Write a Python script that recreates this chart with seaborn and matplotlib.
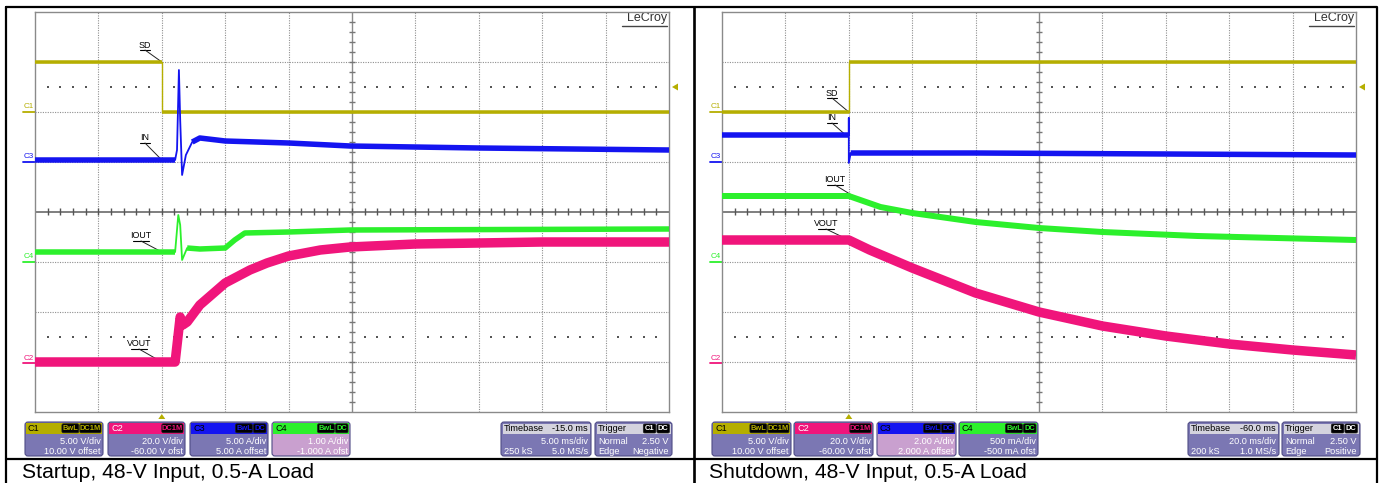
import numpy as np
import pandas as pd
import matplotlib
matplotlib.use("Agg")
import matplotlib.pyplot as plt
from matplotlib.patches import FancyBboxPatch, Rectangle, Polygon
import seaborn as sns

W, H = 1383, 483

# Trace positions in screen divisions: time 0..10 div, level 0..8 div (bottom = 0)
# ---- Startup capture ----
start_sd_t = [0.0, 2.0, 2.0, 10.0]
start_sd_v = [7.0, 7.0, 6.0, 6.0]

start_in_t = [0.0, 2.21, 2.24, 2.27, 2.29, 2.32, 2.38, 2.48, 2.60, 3.0, 4.0, 4.97, 7.0, 10.0]
start_in_v = [5.04, 5.04, 5.24, 6.84, 5.84, 4.74, 5.14, 5.40, 5.48, 5.42, 5.38, 5.32, 5.28, 5.24]

start_iout_t = [0.0, 2.21, 2.26, 2.29, 2.32, 2.40, 2.60, 3.0, 3.15, 3.31, 4.0, 4.97, 10.0]
start_iout_v = [3.20, 3.20, 3.94, 3.74, 3.04, 3.28, 3.26, 3.28, 3.44, 3.58, 3.60, 3.64, 3.66]

start_vout_t = [0.0, 2.21, 2.29, 2.33, 2.40, 2.60, 3.0, 3.39, 3.66, 4.0, 4.5, 4.97, 6.0, 8.0, 10.0]
start_vout_v = [1.00, 1.00, 1.90, 1.74, 1.80, 2.14, 2.58, 2.84, 2.98, 3.12, 3.24, 3.30, 3.36, 3.40, 3.40]

# ---- Shutdown capture ----
stop_sd_t = [0.0, 2.0, 2.0, 10.0]
stop_sd_v = [6.0, 6.0, 7.0, 7.0]

stop_in_t = [0.0, 2.0, 2.0, 2.0, 2.03, 4.0, 7.0, 10.0]
stop_in_v = [5.54, 5.54, 5.88, 4.98, 5.18, 5.18, 5.16, 5.14]

stop_iout_t = [0.0, 2.0, 2.5, 3.0, 4.0, 5.0, 6.0, 7.5, 10.0]
stop_iout_v = [4.32, 4.32, 4.10, 3.98, 3.80, 3.68, 3.60, 3.52, 3.44]

stop_vout_t = [0.0, 2.0, 2.33, 3.0, 4.0, 5.0, 6.0, 7.0, 8.0, 9.0, 10.0]
stop_vout_v = [3.44, 3.44, 3.24, 2.88, 2.38, 2.00, 1.72, 1.52, 1.36, 1.24, 1.14]

# Channel readouts
chan_names = ["C1", "C2", "C3", "C4"]
start_scale = ["5.00 V/div", "20.0 V/div", "5.00 A/div", "1.00 A/div"]
start_offset = ["10.00 V offset", "-60.00 V ofst", "5.00 A offset", "-1.000 A ofst"]
stop_scale = ["5.00 V/div", "20.0 V/div", "2.00 A/div", "500 mA/div"]
stop_offset = ["10.00 V offset", "-60.00 V ofst", "2.000 A offset", "-500 mA ofst"]
start_timebase = ["-15.0 ms", "5.00 ms/div", "250 kS", "5.0 MS/s"]
stop_timebase = ["-60.0 ms", "20.0 ms/div", "200 kS", "1.0 MS/s"]
start_trigger = ["Normal", "2.50 V", "Edge", "Negative"]
stop_trigger = ["Normal", "2.50 V", "Edge", "Positive"]
captions = ["Startup, 48-V Input, 0.5-A Load", "Shutdown, 48-V Input, 0.5-A Load"]

YEL, PNK, BLU, GRN = "#b5ae00", "#f0157b", "#1414f0", "#2cf02c"
CH_COL = {"C1": YEL, "C2": PNK, "C3": BLU, "C4": GRN}

sns.set_theme(style="white")
plt.rcParams["font.family"] = ["Liberation Sans", "DejaVu Sans"]

fig = plt.figure(figsize=(W / 100, H / 100), dpi=100)
bg = fig.add_axes([0, 0, 1, 1], zorder=0)
bg.set_xlim(0, W)
bg.set_ylim(H, 0)
bg.axis("off")

# table frame
lw_tab = 1.6
bg.plot([6, 1377, 1377, 6, 6], [7, 7, 490, 490, 7], color="black", lw=lw_tab)
bg.plot([694, 694], [7, 490], color="black", lw=lw_tab * 1.2)
bg.plot([6, 1377], [459, 459], color="black", lw=lw_tab)
bg.text(22, 472, captions[0], fontsize=15.2, va="center", ha="left", color="black")
bg.text(709, 472, captions[1], fontsize=15.2, va="center", ha="left", color="black")

PX_DIV_X, PX_DIV_Y = 63.4, 50.0
TOP, BOT = 12, 412


def to_px(x0, t, v):
    return x0 + t * PX_DIV_X, BOT - v * PX_DIV_Y


def make_scope(x0):
    ax = fig.add_axes([x0 / W, 1 - BOT / H, 634 / W, (BOT - TOP) / H], zorder=2)
    ax.set_xlim(0, 10)
    ax.set_ylim(0, 8)
    ax.patch.set_alpha(0)
    ax.set_xticks([])
    ax.set_yticks([])
    for s in ax.spines.values():
        s.set_color("#8a8a8a")
        s.set_linewidth(1.0)
    gkw = dict(color="#8f8f8f", lw=0.8, ls=(0, (1, 1.2)), zorder=1)
    for i in range(1, 10):
        if i != 5:
            ax.axvline(i, **gkw)
    for j in range(1, 8):
        if j != 4:
            ax.axhline(j, **gkw)
    ax.axvline(5, color="#8a8a8a", lw=1.0, zorder=1)
    ax.axhline(4, color="#6a6a6a", lw=1.2, zorder=1)
    minor_t = np.arange(0.2, 10, 0.2)
    minor_v = np.arange(0.2, 8, 0.2)
    ax.vlines(minor_t, 4 - 0.07, 4 + 0.07, color="#555555", lw=1.0, zorder=1)
    ax.hlines(minor_v, 5 - 0.05, 5 + 0.05, color="#777777", lw=1.0, zorder=1)
    dots_t = np.array([t for t in minor_t if abs(t - round(t)) > 0.05])
    for lev in (6.5, 1.5):
        ax.scatter(dots_t, np.full_like(dots_t, lev), s=0.9, color="#555555",
                   marker="s", linewidths=0, zorder=1)
    return ax


def trace(ax, t, v, color, thin, thick, bands):
    df = pd.DataFrame({"t": t, "v": v})
    sns.lineplot(data=df, x="t", y="v", ax=ax, color=color, lw=thin,
                 estimator=None, sort=False, legend=False, zorder=3)
    parts = []
    for k, (a, b) in enumerate(bands):
        p = df.iloc[a:b].copy()
        p["seg"] = k
        parts.append(p)
    band = pd.concat(parts)
    sns.lineplot(data=band, x="t", y="v", units="seg", ax=ax, color=color,
                 lw=thick, estimator=None, sort=False, legend=False, zorder=3,
                 solid_capstyle="butt")
    ax.set(xlabel="", ylabel="")


def pt(px):
    return px * 72 / 100


def label(x0, text, tx, ty, t, v):
    ax_, ay_ = to_px(x0, t, v)
    bg.text(tx, ty, text, fontsize=6.4, ha="center", va="center", color="black")
    w = 3.7 * len(text) + 2
    bg.plot([tx - w / 2, tx + w / 2], [ty + 5, ty + 5], color="black", lw=0.8)
    bg.plot([tx, ax_], [ty + 5, ay_], color="#222222", lw=0.7)


def chan_marker(x0, name, v):
    _, y = to_px(x0, 0, v)
    c = CH_COL[name]
    bg.text(x0 - 6, y - 5, name, fontsize=5.8, ha="center", va="center", color=c)
    bg.plot([x0 - 12, x0], [y, y], color=c, lw=1.3)


def trig_marks(x0, t_trig, level):
    px, _ = to_px(x0, t_trig, 0)
    bg.add_patch(Polygon([[px - 3.5, 419], [px + 3.5, 419], [px, 414]], closed=True, fc=YEL, ec="none"))
    _, py = to_px(x0, 10, level)
    rx = x0 + 634
    bg.add_patch(Polygon([[rx + 3, py], [rx + 9, py - 3.5], [rx + 9, py + 3.5]], closed=True, fc=YEL, ec="none"))


def lecroy(x_right):
    bg.text(x_right, 18, "LeCroy", fontsize=9, ha="right", va="center", color="#333333")
    bg.plot([x_right - 45, x_right], [25.5, 25.5], color="#444444", lw=1.0)


BOX_BODY = "#7b77b3"
BOX_HI = "#c9a0cf"
BOX_EDGE = "#4f4c86"
Y0, Y1 = 422, 456


def badge_row(x_right, y, badges, tcolor):
    xr = x_right
    for b in reversed(badges):
        w = 4.3 * len(b) + 4
        bg.add_patch(FancyBboxPatch((xr - w, y - 4.5), w, 9,
                                    boxstyle="round,pad=0,rounding_size=1.5",
                                    fc="black", ec="#222222", lw=0.5, zorder=4))
        bg.text(xr - w / 2, y, b, fontsize=5.4, ha="center", va="center",
                color=tcolor, zorder=5, fontweight="bold")
        xr -= w + 1


def chan_box(x0, x1, name, scale, offset, badges, highlight=False):
    c = CH_COL[name]
    bg.add_patch(FancyBboxPatch((x0, Y0), x1 - x0, Y1 - Y0,
                                boxstyle="round,pad=0,rounding_size=3",
                                fc=BOX_HI if highlight else BOX_BODY, ec=BOX_EDGE, lw=0.8, zorder=3))
    bg.add_patch(Rectangle((x0 + 1, Y0 + 1), x1 - x0 - 2, 10.5, fc=c, ec="none", zorder=3))
    bg.text(x0 + 3, Y0 + 6.3, name, fontsize=6.6, ha="left", va="center",
            color="white" if name == "C2" else "black", zorder=5)
    badge_row(x1 - 2, Y0 + 6.3, badges, c)
    bg.text(x1 - 2, Y0 + 19, scale, fontsize=6.6, ha="right", va="center", color="white", zorder=5)
    bg.text(x1 - 2, Y0 + 29.5, offset, fontsize=6.6, ha="right", va="center", color="white", zorder=5)


def info_box(x0, x1, title, head_right, rows, badges=None):
    bg.add_patch(FancyBboxPatch((x0, Y0), x1 - x0, Y1 - Y0,
                                boxstyle="round,pad=0,rounding_size=3",
                                fc=BOX_BODY, ec=BOX_EDGE, lw=0.8, zorder=3))
    bg.add_patch(Rectangle((x0 + 1.5, Y0 + 1.5), x1 - x0 - 3, 10, fc="#d4d3de", ec="none", zorder=3))
    bg.text(x0 + 3, Y0 + 6.5, title, fontsize=6.6, ha="left", va="center", color="black", zorder=5)
    if head_right:
        bg.text(x1 - 3, Y0 + 6.5, head_right, fontsize=6.6, ha="right", va="center", color="black", zorder=5)
    if badges:
        badge_row(x1 - 2.5, Y0 + 6.5, badges, "white")
    for k, (lt, rt) in enumerate(rows):
        yy = Y0 + 19 + 10.5 * k
        if lt:
            bg.text(x0 + 3, yy, lt, fontsize=6.6, ha="left", va="center", color="white", zorder=5)
        if rt:
            bg.text(x1 - 3, yy, rt, fontsize=6.6, ha="right", va="center", color="white", zorder=5)


BADGES = [["BwL", "DC1M"], ["DC1M"], ["BwL", "DC"], ["BwL", "DC"]]

# ---------------- Startup panel ----------------
XL = 35
axL = make_scope(XL)
trace(axL, start_sd_t, start_sd_v, YEL, 1.0, pt(3.5), [(0, 2), (2, 4)])
trace(axL, start_in_t, start_in_v, BLU, 1.3, pt(5.5), [(0, 2), (7, 14)])
trace(axL, start_iout_t, start_iout_v, GRN, 1.3, pt(5.5), [(0, 2), (5, 13)])
trace(axL, start_vout_t, start_vout_v, PNK, 1.3, pt(9.5), [(0, 15)])
label(XL, "SD", 145, 45, 2.0, 7.0)
label(XL, "IN", 145, 138, 2.0, 5.04)
label(XL, "IOUT", 141, 236, 2.0, 3.2)
label(XL, "VOUT", 139, 344, 2.0, 1.0)
chan_marker(XL, "C1", 6.0)
chan_marker(XL, "C3", 5.0)
chan_marker(XL, "C4", 3.0)
chan_marker(XL, "C2", 0.98)
trig_marks(XL, 2.0, 6.5)
lecroy(667)
xs = [(25, 103), (108, 185), (190, 268), (272, 350)]
for i, n in enumerate(chan_names):
    chan_box(xs[i][0], xs[i][1], n, start_scale[i], start_offset[i], BADGES[i], highlight=(n == "C4"))
info_box(501, 591, "Timebase", start_timebase[0],
         [("", start_timebase[1]), (start_timebase[2], start_timebase[3])])
info_box(595, 672, "Trigger", None,
         [(start_trigger[0], start_trigger[1]), (start_trigger[2], start_trigger[3])], badges=["C1", "DC"])

# ---------------- Shutdown panel ----------------
XR = 722
axR = make_scope(XR)
trace(axR, stop_sd_t, stop_sd_v, YEL, 1.0, pt(3.5), [(0, 2), (2, 4)])
trace(axR, stop_in_t, stop_in_v, BLU, 1.3, pt(5.5), [(0, 2), (4, 8)])
trace(axR, stop_iout_t, stop_iout_v, GRN, 1.3, pt(6), [(0, 9)])
trace(axR, stop_vout_t, stop_vout_v, PNK, 1.3, pt(9.5), [(0, 11)])
label(XR, "SD", 832, 93, 2.0, 6.0)
label(XR, "IN", 832, 118, 1.95, 5.54)
label(XR, "IOUT", 835, 180, 2.2, 4.22)
label(XR, "VOUT", 826, 224, 2.0, 3.44)
chan_marker(XR, "C1", 6.0)
chan_marker(XR, "C3", 5.0)
chan_marker(XR, "C4", 3.0)
chan_marker(XR, "C2", 0.98)
trig_marks(XR, 2.0, 6.5)
lecroy(1354)
xs = [(712, 791), (794, 873), (877, 956), (959, 1038)]
for i, n in enumerate(chan_names):
    chan_box(xs[i][0], xs[i][1], n, stop_scale[i], stop_offset[i], BADGES[i], highlight=(n == "C3"))
info_box(1188, 1279, "Timebase", stop_timebase[0],
         [("", stop_timebase[1]), (stop_timebase[2], stop_timebase[3])])
info_box(1282, 1360, "Trigger", None,
         [(stop_trigger[0], stop_trigger[1]), (stop_trigger[2], stop_trigger[3])], badges=["C1", "DC"])

fig.savefig("out.png", dpi=100)
